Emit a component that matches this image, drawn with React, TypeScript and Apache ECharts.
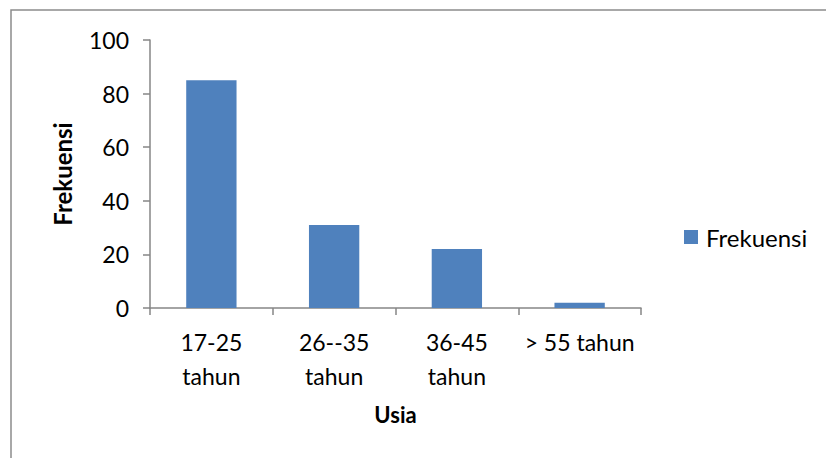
import React, { useEffect, useRef } from "react";
import * as echarts from "echarts";

const categories = ["17-25\ntahun", "26--35\ntahun", "36-45\ntahun", "> 55 tahun"];
const values = [85, 31, 22, 2];
const seriesName = "Frekuensi";
const xName = "Usia";
const yName = "Frekuensi";

export default function App() {
  const ref = useRef<HTMLDivElement>(null);
  useEffect(() => {
    document.body.style.margin = "0";
    const chart = echarts.init(ref.current!, null, { renderer: "svg" });
    const font = "Lato, 'Noto Sans', sans-serif";
    chart.setOption({
      animation: false,
      backgroundColor: "#ffffff",
      textStyle: { fontFamily: font },
      graphic: [
        {
          type: "rect",
          shape: { x: 11, y: 10, width: 830, height: 460 },
          style: { fill: "none", stroke: "#8c8c8c", lineWidth: 1.5 },
          silent: true,
        },
      ],
      legend: {
        show: true,
        left: 679,
        top: 220,
        itemWidth: 14,
        itemHeight: 14,
        itemGap: 8,
        icon: "rect",
        textStyle: { fontSize: 24, color: "#000", fontFamily: font, padding: [0, 0, 0, 3] },
        data: [seriesName],
      },
      grid: { left: 150, top: 40, right: 185, bottom: 150, containLabel: false },
      xAxis: {
        type: "category",
        data: categories,
        name: xName,
        nameLocation: "middle",
        nameGap: 95,
        nameTextStyle: { fontSize: 22, fontWeight: "bold", color: "#000", fontFamily: font },
        axisLine: { lineStyle: { color: "#868686", width: 1.5 } },
        axisTick: { show: true, length: 7, lineStyle: { color: "#868686", width: 1.5 } },
        axisLabel: { fontSize: 23, color: "#000", lineHeight: 34, margin: 17, fontFamily: font, interval: 0 },
      },
      yAxis: {
        type: "value",
        min: 0,
        max: 100,
        interval: 20,
        name: yName,
        nameLocation: "middle",
        nameGap: 76,
        nameTextStyle: { fontSize: 24, fontWeight: "bold", color: "#000", fontFamily: font },
        axisLine: { show: true, lineStyle: { color: "#868686", width: 1.5 } },
        axisTick: { show: true, length: 7, lineStyle: { color: "#868686", width: 1.5 } },
        splitLine: { show: false },
        axisLabel: { fontSize: 23, color: "#000", margin: 21, fontFamily: font },
      },
      series: [
        {
          name: seriesName,
          type: "bar",
          data: values,
          barWidth: "41%",
          itemStyle: { color: "#4f81bd" },
        },
      ],
    });
    return () => chart.dispose();
  }, []);
  return <div ref={ref} style={{ position: "absolute", left: 0, top: 0, width: 826, height: 458 }} />;
}
